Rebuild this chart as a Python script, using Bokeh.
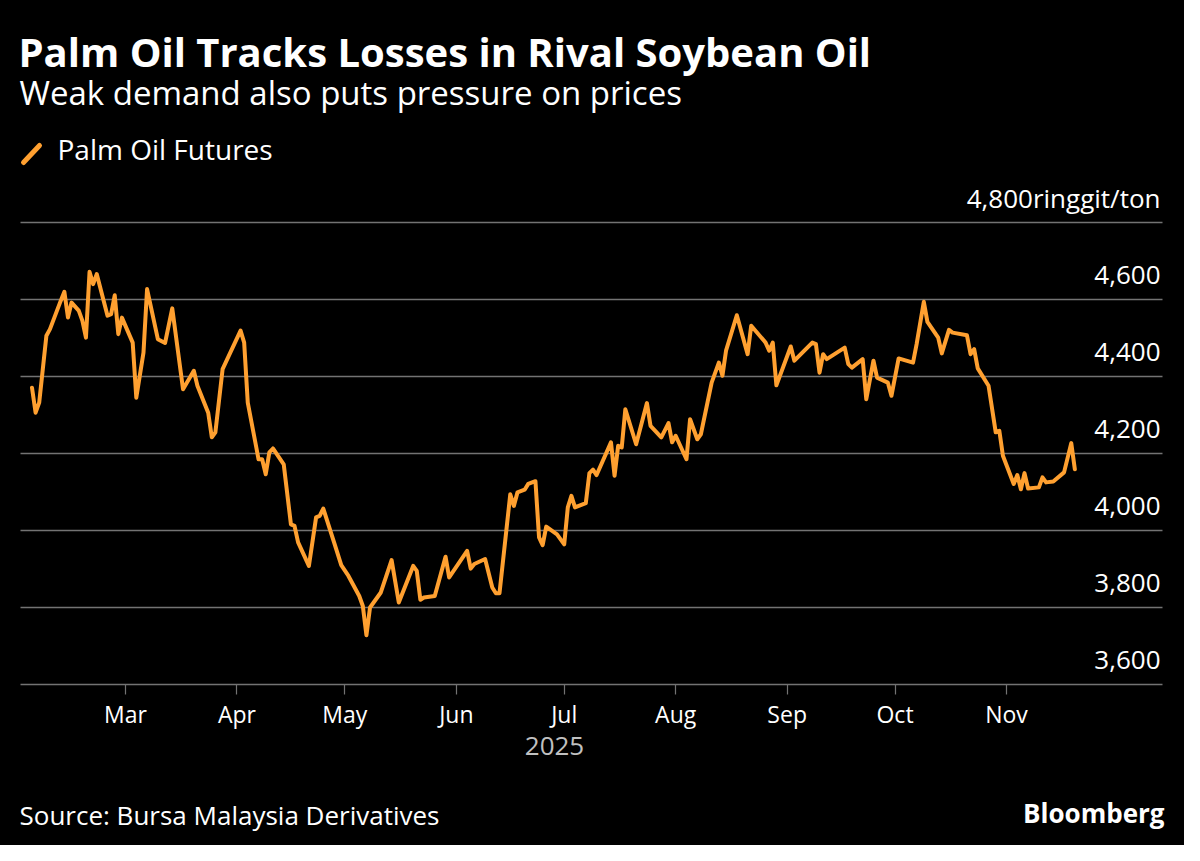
import pandas as pd
from bokeh.plotting import figure
from bokeh.models import Range1d, FixedTicker, Grid, Label, Arrow, ColumnDataSource
from bokeh.embed import file_html
from bokeh.resources import INLINE

# ---------------- data ----------------
dates = [
    "2025-02-03", "2025-02-04", "2025-02-05", "2025-02-07", "2025-02-08", "2025-02-11", "2025-02-12",
    "2025-02-13", "2025-02-14", "2025-02-16", "2025-02-17", "2025-02-18", "2025-02-19", "2025-02-20",
    "2025-02-21", "2025-02-24", "2025-02-25", "2025-02-26", "2025-02-27", "2025-02-28", "2025-03-03",
    "2025-03-04", "2025-03-06", "2025-03-07", "2025-03-10", "2025-03-12", "2025-03-14", "2025-03-17",
    "2025-03-20", "2025-03-21", "2025-03-24", "2025-03-25", "2025-03-26", "2025-03-28", "2025-04-02",
    "2025-04-03", "2025-04-04", "2025-04-07", "2025-04-08", "2025-04-09", "2025-04-10", "2025-04-11",
    "2025-04-14", "2025-04-16", "2025-04-17", "2025-04-18", "2025-04-21", "2025-04-23", "2025-04-24",
    "2025-04-25", "2025-04-28", "2025-04-30", "2025-05-02", "2025-05-05", "2025-05-06", "2025-05-07",
    "2025-05-08", "2025-05-11", "2025-05-14", "2025-05-16", "2025-05-20", "2025-05-21", "2025-05-22",
    "2025-05-23", "2025-05-26", "2025-05-29", "2025-05-30", "2025-06-04", "2025-06-05", "2025-06-06",
    "2025-06-09", "2025-06-11", "2025-06-12", "2025-06-13", "2025-06-16", "2025-06-17", "2025-06-18",
    "2025-06-20", "2025-06-21", "2025-06-23", "2025-06-24", "2025-06-25", "2025-06-26", "2025-06-29",
    "2025-07-01", "2025-07-02", "2025-07-03", "2025-07-04", "2025-07-07", "2025-07-08", "2025-07-09",
    "2025-07-10", "2025-07-14", "2025-07-15", "2025-07-16", "2025-07-17", "2025-07-18", "2025-07-21",
    "2025-07-24", "2025-07-25", "2025-07-28", "2025-07-30", "2025-07-31", "2025-08-01", "2025-08-04",
    "2025-08-05", "2025-08-07", "2025-08-08", "2025-08-11", "2025-08-13", "2025-08-14", "2025-08-15",
    "2025-08-18", "2025-08-21", "2025-08-22", "2025-08-26", "2025-08-27", "2025-08-28", "2025-08-29",
    "2025-09-02", "2025-09-03", "2025-09-08", "2025-09-09", "2025-09-10", "2025-09-11", "2025-09-12",
    "2025-09-17", "2025-09-18", "2025-09-19", "2025-09-22", "2025-09-23", "2025-09-25", "2025-09-26",
    "2025-09-29", "2025-09-30", "2025-10-02", "2025-10-06", "2025-10-07", "2025-10-09", "2025-10-10",
    "2025-10-13", "2025-10-14", "2025-10-16", "2025-10-17", "2025-10-21", "2025-10-22", "2025-10-23",
    "2025-10-24", "2025-10-27", "2025-10-29", "2025-10-30", "2025-10-31", "2025-11-03", "2025-11-04",
    "2025-11-05", "2025-11-06", "2025-11-07", "2025-11-10", "2025-11-11", "2025-11-12", "2025-11-14",
    "2025-11-17", "2025-11-19", "2025-11-20",
]
palm_oil = [
    4371, 4306, 4332, 4506, 4523, 4597, 4620,
    4553, 4592, 4571, 4545, 4501, 4672, 4640,
    4666, 4558, 4562, 4611, 4510, 4553, 4488,
    4345, 4462, 4627, 4497, 4487, 4577, 4367,
    4415, 4376, 4306, 4242, 4255, 4419, 4519,
    4488, 4332, 4185, 4185, 4146, 4203, 4213,
    4172, 4016, 4012, 3969, 3908, 4034, 4038,
    4057, 3969, 3910, 3882, 3830, 3804, 3728,
    3800, 3839, 3923, 3813, 3908, 3895, 3820,
    3826, 3830, 3932, 3878, 3947, 3901, 3913,
    3926, 3852, 3837, 3837, 4094, 4064, 4099,
    4106, 4121, 4128, 3982, 3962, 4010, 3990,
    3964, 4060, 4090, 4060, 4071, 4149, 4158,
    4144, 4229, 4142, 4220, 4216, 4315, 4224,
    4331, 4272, 4242, 4279, 4229, 4246, 4185,
    4289, 4237, 4250, 4384, 4436, 4402, 4467,
    4559, 4458, 4532, 4488, 4467, 4488, 4377,
    4478, 4441, 4488, 4484, 4410, 4458, 4445,
    4475, 4432, 4423, 4445, 4341, 4441, 4397,
    4384, 4350, 4447, 4436, 4484, 4594, 4542,
    4501, 4460, 4521, 4514, 4507, 4458, 4471,
    4421, 4376, 4255, 4259, 4194, 4121, 4144,
    4107, 4149, 4109, 4112, 4138, 4125, 4127,
    4151, 4227, 4159,
]
month_ticks = ["2025-03-01", "2025-04-01", "2025-05-01", "2025-06-01", "2025-07-01",
               "2025-08-01", "2025-09-01", "2025-10-01", "2025-11-01"]
month_labels = ["Mar", "Apr", "May", "Jun", "Jul", "Aug", "Sep", "Oct", "Nov"]
y_ticks = [3600, 3800, 4000, 4200, 4400, 4600, 4800]
y_labels = ["3,600", "3,800", "4,000", "4,200", "4,400", "4,600", "4,800ringgit/ton"]

title = "Palm Oil Tracks Losses in Rival Soybean Oil"
subtitle = "Weak demand also puts pressure on prices"
series_name = "Palm Oil Futures"
source = "Source: Bursa Malaysia Derivatives"
brand = "Bloomberg"
year_label = "2025"

# ---------------- styling / layout ----------------
ORANGE = "#FFA030"
GRID = "#737373"
WHITE = "#ffffff"
FONT = "Open Sans"
W, H = 1184, 845
M = 8                      # page margin: page px = figure px + 8
BASE_SHIFT = 0.4           # measured baseline drift of labels, in em

# geometry in page pixels
PX_PER_DAY = 3.596
ANCHOR_DATE, ANCHOR_PX = pd.Timestamp("2025-03-01"), 133
Y0_PX, Y1_PX = 692, 230    # pixel rows of 3,600 and 4,800
FL, FR = 28, 1170          # left / right ends of the grid lines

upp = (y_ticks[-1] - y_ticks[0]) / (Y0_PX - Y1_PX)   # value units per pixel


def day_at(px):
    return ANCHOR_DATE + pd.Timedelta(days=(px - ANCHOR_PX) / PX_PER_DAY)


def ms(t):
    return pd.Timestamp(t).value / 1e6


def xd(px):
    return ms(day_at(px))


def yd(py):
    return y_ticks[0] + (Y0_PX - py) * upp


x_range = Range1d(day_at(M), day_at(W + M))
y_range = Range1d(yd(H + M), yd(M))

p = figure(width=W, height=H, x_axis_type="datetime", y_axis_location=None,
           output_backend="svg", toolbar_location=None,
           x_range=x_range, y_range=y_range, min_border=0)
p.background_fill_color = "black"
p.border_fill_color = None
p.outline_line_color = None
p.xgrid.visible = False
p.ygrid.visible = False
p.styles = {"background-color": "black"}

# horizontal grid lines
grid = Grid(dimension=1, ticker=FixedTicker(ticks=y_ticks[1:]),
            grid_line_color=GRID, grid_line_width=1.5)
if "cross_bounds" in Grid.properties():
    grid.cross_bounds = (xd(FL), xd(FR))
    p.add_layout(grid)
else:
    p.segment(x0=[xd(FL)] * (len(y_ticks) - 1), x1=[xd(FR)] * (len(y_ticks) - 1),
              y0=y_ticks[1:], y1=y_ticks[1:], line_color=GRID, line_width=1.5)

# x axis drawn on the 3,600 line
ax = p.xaxis[0]
tick_ms = [ms(t) for t in month_ticks]
ax.fixed_location = y_ticks[0]
ax.bounds = (xd(FL), xd(FR))
ax.ticker = FixedTicker(ticks=tick_ms)
ax.major_label_overrides = {t: lab for t, lab in zip(tick_ms, month_labels)}
ax.axis_line_color = GRID
ax.axis_line_width = 1.5
ax.major_tick_line_color = GRID
ax.major_tick_line_width = 1.2
ax.major_tick_out = 10
ax.major_tick_in = 0
ax.minor_tick_line_color = None
ax.major_label_text_color = WHITE
ax.major_label_text_font = FONT
ax.major_label_text_font_size = "23px"
ax.major_label_standoff = 3

src = ColumnDataSource(dict(x=pd.to_datetime(dates), y=palm_oil))
p.line("x", "y", source=src, line_color=ORANGE, line_width=4, line_join="round", line_cap="round")

# y tick labels above the grid lines, right aligned
YL_SIZE = 26
for v, lab in zip(y_ticks, y_labels):
    p.add_layout(Label(x=xd(1168), y=v + (14 + BASE_SHIFT * YL_SIZE) * upp, text=lab,
                       text_align="right", text_baseline="alphabetic",
                       text_color=WHITE, text_font=FONT, text_font_size=f"{YL_SIZE}px"))


def add_text(px, py, text, size, bold=False, align="left", color=WHITE):
    p.add_layout(Label(x=xd(px), y=yd(py - BASE_SHIFT * size), text=text, text_align=align,
                       text_baseline="alphabetic", text_color=color, text_font=FONT,
                       text_font_size=f"{size}px", text_font_style="bold" if bold else "normal"))


add_text(26, 75, title, 40, bold=True)
add_text(27, 113, subtitle, 33)
add_text(65, 168, series_name, 28)
add_text(562, 764, year_label, 26, align="center", color="#c0c0c0")
add_text(27, 833, source, 26)
add_text(1172, 831, brand, 26, bold=True, align="right")

p.add_layout(Arrow(end=None, x_start=xd(31), y_start=yd(170), x_end=xd(47), y_end=yd(153),
                   line_color=ORANGE, line_width=5, line_cap="round"))

open("out.html", "w").write(file_html(p, INLINE))
